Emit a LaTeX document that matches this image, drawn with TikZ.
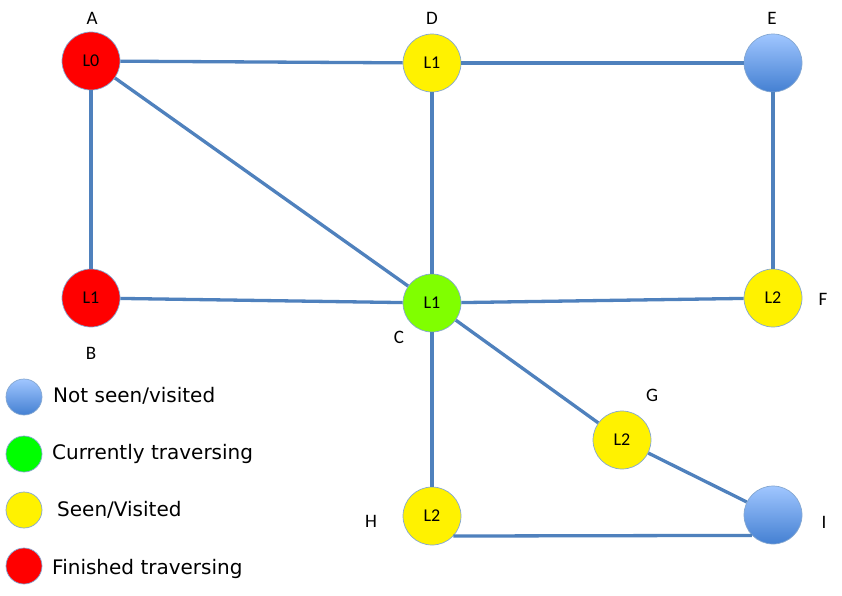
\documentclass[tikz,border=0pt]{standalone}
\usepackage{fontspec}
\setmainfont{Carlito}
\newfontfamily\legfont{DejaVu Sans}
\definecolor{edgeblue}{RGB}{79,129,189}
\definecolor{nsTop}{RGB}{160,198,255}
\definecolor{nsBot}{RGB}{68,128,210}
\definecolor{cgreen}{RGB}{128,255,0}
\definecolor{lgreen}{RGB}{0,255,0}
\begin{document}
\begin{tikzpicture}[x=1pt,y=-1pt,
  vtx/.style={circle,minimum size=58pt,inner sep=0pt,draw=edgeblue!70,line width=0.7pt,
    font=\fontsize{18}{18}\selectfont,text height=11.6pt,text depth=0pt},
  red/.style={fill=red},
  yel/.style={fill=yellow},
  grn/.style={fill=cgreen},
  unseen/.style={top color=nsTop,bottom color=nsBot},
  lbl/.style={inner sep=0pt,font=\fontsize{19}{19}\selectfont,text height=12.2pt,text depth=0pt},
  edge/.style={draw=edgeblue,line width=3.3pt},
  legc/.style={circle,minimum size=36pt,inner sep=0pt,draw=edgeblue!70,line width=0.7pt},
  legt/.style={anchor=west,inner sep=0pt,font=\legfont\fontsize{20}{20}\selectfont,text height=14.6pt,text depth=0pt}]
\useasboundingbox (0,0) rectangle (842,595);
\fill[white] (0,0) rectangle (842,595);
% vertices
\node[vtx,red] (A) at (91,61) {L0};
\node[vtx,yel] (D) at (432,63) {L1};
\node[vtx,unseen] (E) at (773,63) {};
\node[vtx,red] (B) at (91,298) {L1};
\node[vtx,grn] (C) at (432,303) {L1};
\node[vtx,yel] (F) at (773,298) {L2};
\node[vtx,yel] (G) at (622,440) {L2};
\node[vtx,yel] (H) at (432,516) {L2};
\node[vtx,unseen] (I) at (773,515) {};
% edges
\draw[edge] (A) -- (D);
\draw[edge] (D) -- (E);
\draw[edge] (A) -- (B);
\draw[edge] (A) -- (C);
\draw[edge] (D) -- (C);
\draw[edge] (E) -- (F);
\draw[edge] (B) -- (C);
\draw[edge] (C) -- (F);
\draw[edge] (C) -- (G);
\draw[edge] (C) -- (H);
\draw[edge] (G) -- (I);
\draw[edge] (H.-43.6) -- (I.-136.4);
% labels
\node[lbl] (lA) at (92,18) {A};
\node[lbl] (lD) at (432,18) {D};
\node[lbl] (lE) at (772,18) {E};
\node[lbl] (lB) at (91,353) {B};
\node[lbl] (lC) at (399,337) {C};
\node[lbl] (lF) at (823,299) {F};
\node[lbl] (lG) at (652,395) {G};
\node[lbl] (lH) at (371,521) {H};
\node[lbl] (lI) at (824,522) {I};
% legend
\node[legc,unseen] (k1) at (24,397) {};
\node[legc,fill=lgreen] (k2) at (24,454) {};
\node[legc,fill=yellow] (k3) at (24,510) {};
\node[legc,fill=red] (k4) at (24,566) {};
\node[legt] (t1) at (53,395) {Not seen/visited};
\node[legt] (t2) at (52,452) {Currently traversing};
\node[legt] (t3) at (57,509) {Seen/Visited};
\node[legt] (t4) at (52,567) {Finished traversing};
\end{tikzpicture}
\end{document}
